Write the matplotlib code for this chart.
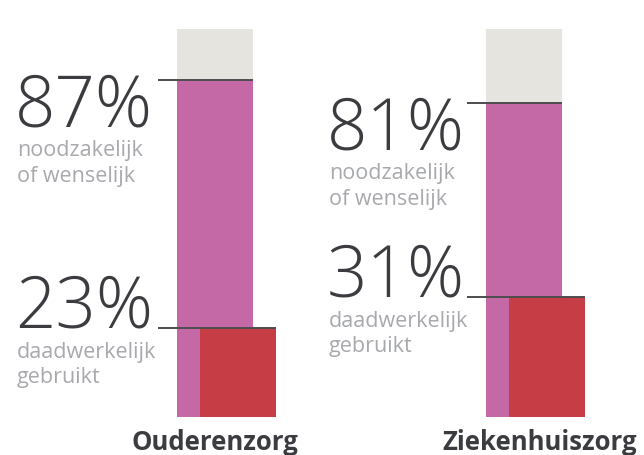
import matplotlib
matplotlib.use("agg")
from matplotlib import pyplot as plt

# data
categories = ["Ouderenzorg", "Ziekenhuiszorg"]
needed = [87, 81]          # noodzakelijk of wenselijk
used = [23, 31]            # daadwerkelijk gebruikt
needed_label = "noodzakelijk\nof wenselijk"
used_label = "daadwerkelijk\ngebruikt"

# colours
grey = "#e5e4de"
pink = "#c568a6"
red = "#c63d45"
dark = "#3b3c40"
light_text = "#a7a9ad"
line_col = "#4d4d4f"

plt.rcParams["font.family"] = ["Open Sans", "DejaVu Sans"]

fig = plt.figure(figsize=(6.44, 4.55), dpi=100)
ax = fig.add_axes([0, 0, 1, 1])
ax.set_xlim(0, 644)
ax.set_ylim(-9.8, 107.5)
ax.axis("off")

centers = [215, 524]
bar_w = 76
red_shift = 23
text_x = [15, 327]

for i, cat in enumerate(categories):
    c = centers[i]
    # background 100% bar
    ax.bar(c, 100, width=bar_w, color=grey, linewidth=0)
    ax.bar(c, needed[i], width=bar_w, color=pink, linewidth=0)
    ax.bar(c + red_shift, used[i], width=bar_w, color=red, linewidth=0)

    # leader lines
    x0 = c - bar_w / 2 - 19
    ax.plot([x0, c + bar_w / 2], [needed[i], needed[i]], color=line_col, lw=1.4,
            solid_capstyle="butt")
    ax.plot([x0, c + red_shift + bar_w / 2], [used[i], used[i]], color=line_col, lw=1.4,
            solid_capstyle="butt")

    # big numbers
    ax.text(text_x[i], needed[i] - 12.0, f"{needed[i]}%", fontsize=51, color=dark,
            fontweight="light", va="baseline", ha="left")
    ax.text(text_x[i] + 2, needed[i] - 15.6, needed_label, fontsize=15.5, color=light_text,
            va="top", ha="left", linespacing=1.3)
    ax.text(text_x[i], used[i], f"{used[i]}%", fontsize=51, color=dark,
            fontweight="light", va="baseline", ha="left")
    ax.text(text_x[i] + 2, used[i] - 3.7, used_label, fontsize=15.5, color=light_text,
            va="top", ha="left", linespacing=1.25)

    # category label
    ax.text(c + (0 if i == 0 else 16), -3.0, cat, fontsize=18.5, fontweight="bold",
            color=dark, ha="center", va="top")

fig.savefig("out.png", dpi=100)
